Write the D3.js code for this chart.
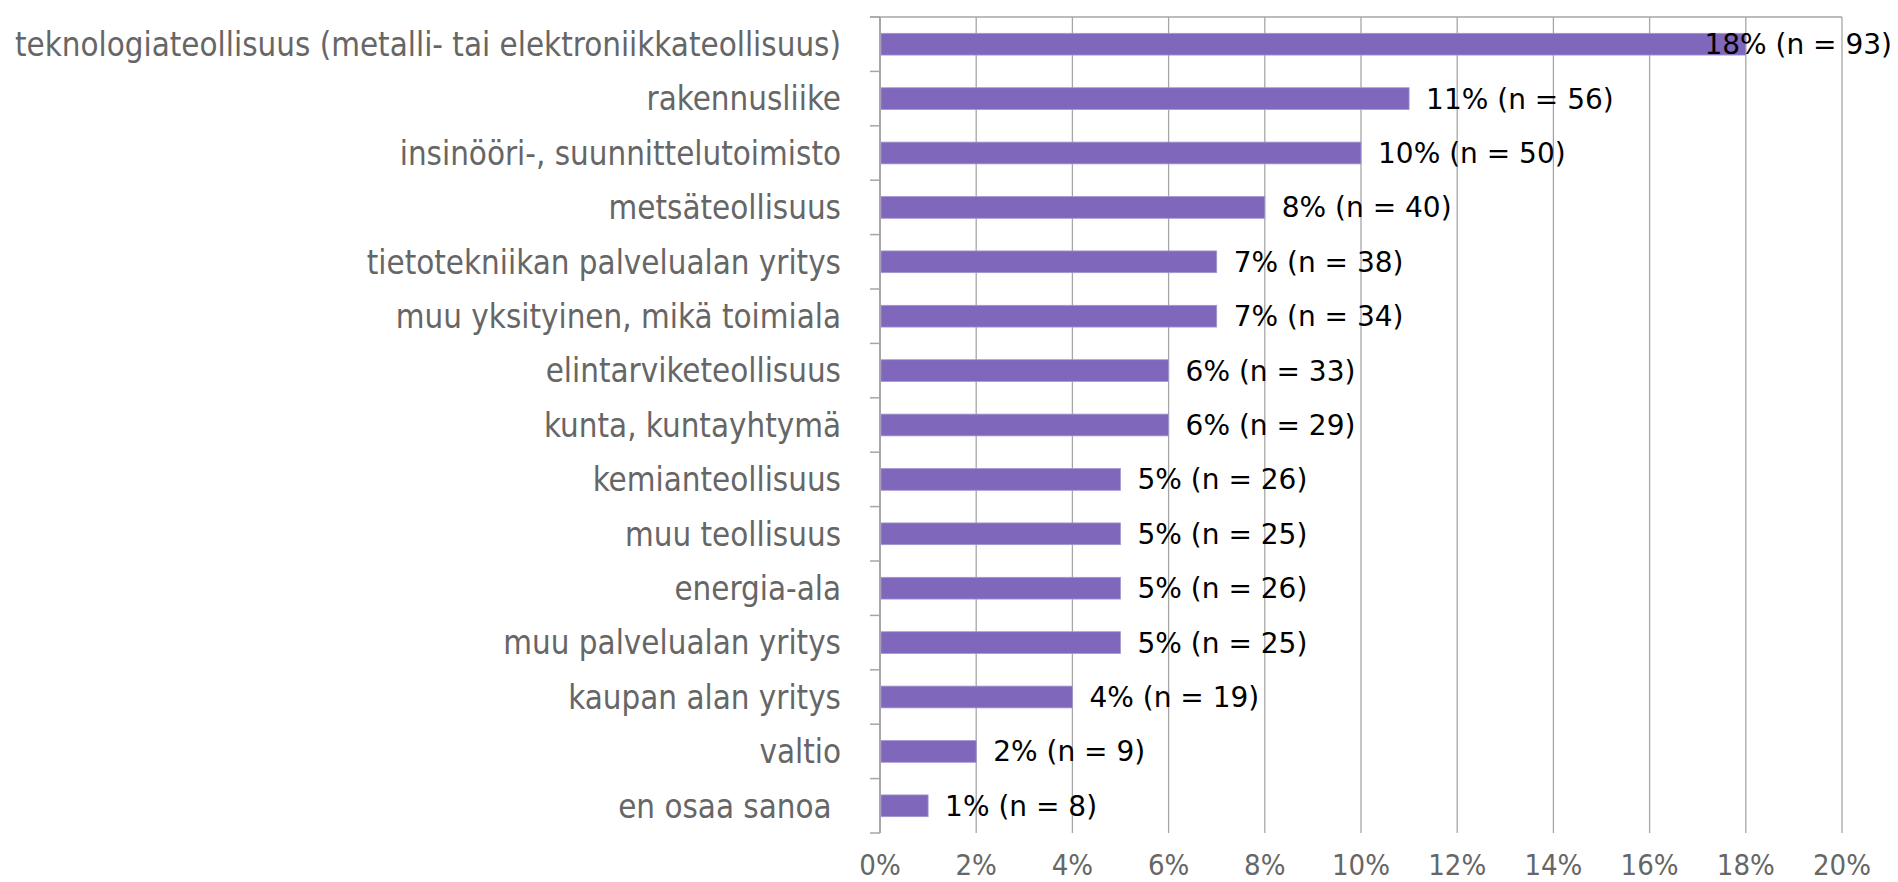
<!DOCTYPE html>
<html>
<head>
<meta charset="utf-8">
<script src="https://cdn.jsdelivr.net/npm/d3@7"></script>
<style>
  html, body { margin: 0; padding: 0; background: #fff; }
  svg { display: block; }
  .cat-label { font-family: "DejaVu Sans Condensed", "DejaVu Sans", sans-serif; fill: #666; white-space: pre; }
  .tick-label { font-family: "DejaVu Sans Condensed", "DejaVu Sans", sans-serif; fill: #666; }
  .value-label { font-family: "DejaVu Sans", sans-serif; fill: #000; }
</style>
</head>
<body>
<svg id="chart"></svg>
<script>
const categories = [
  "teknologiateollisuus (metalli- tai elektroniikkateollisuus)",
  "rakennusliike",
  "insinööri-, suunnittelutoimisto",
  "metsäteollisuus",
  "tietotekniikan palvelualan yritys",
  "muu yksityinen, mikä toimiala",
  "elintarviketeollisuus",
  "kunta, kuntayhtymä",
  "kemianteollisuus",
  "muu teollisuus",
  "energia-ala",
  "muu palvelualan yritys",
  "kaupan alan yritys",
  "valtio",
  "en osaa sanoa "
]
const percents = [18, 11, 10, 8, 7, 7, 6, 6, 5, 5, 5, 5, 4, 2, 1]
const counts = [93, 56, 50, 40, 38, 34, 33, 29, 26, 25, 26, 25, 19, 9, 8]
const xTicks = [0, 2, 4, 6, 8, 10, 12, 14, 16, 18, 20]

const width = 1898
const height = 882
const margin = ({ top: 17, right: 56, bottom: 49, left: 880 })

const data = categories.map((c, i) => ({ category: c, pct: percents[i], n: counts[i] }))

const svg = d3.select("#chart")
  .attr("width", width)
  .attr("height", height)

const x = d3.scaleLinear()
  .domain([0, 20])
  .range([margin.left, width - margin.right])

const y = d3.scaleBand()
  .domain(categories)
  .range([margin.top, height - margin.bottom])
  .paddingInner(0.6)
  .paddingOuter(0.3)

const yOuter = d3.scaleBand()
  .domain(categories)
  .range([margin.top, height - margin.bottom])

// vertical gridlines
svg.append("g")
  .selectAll("line")
  .data(xTicks.slice(1))
  .join("line")
    .attr("x1", d => x(d))
    .attr("x2", d => x(d))
    .attr("y1", margin.top)
    .attr("y2", height - margin.bottom)
    .attr("stroke", "#a6a6a6")
    .attr("stroke-width", 1.3)

// top border
svg.append("line")
  .attr("x1", x(0) - 10)
  .attr("x2", x(20))
  .attr("y1", margin.top)
  .attr("y2", margin.top)
  .attr("stroke", "#a6a6a6")
  .attr("stroke-width", 1.5)

// y axis with ticks between categories
const tickYs = categories.map(c => yOuter(c)).concat([height - margin.bottom])
svg.append("g")
  .selectAll("line")
  .data(tickYs)
  .join("line")
    .attr("x1", x(0) - 10)
    .attr("x2", x(0))
    .attr("y1", d => d)
    .attr("y2", d => d)
    .attr("stroke", "#a6a6a6")
    .attr("stroke-width", 1.5)

svg.append("line")
  .attr("x1", x(0))
  .attr("x2", x(0))
  .attr("y1", margin.top)
  .attr("y2", height - margin.bottom)
  .attr("stroke", "#a6a6a6")
  .attr("stroke-width", 2)

// bars
svg.append("g")
  .selectAll("rect")
  .data(data)
  .join("rect")
    .attr("x", x(0) + 1)
    .attr("y", d => y(d.category))
    .attr("width", d => x(d.pct) - x(0) - 1)
    .attr("height", y.bandwidth())
    .attr("fill", "#7f67bb")
    .attr("stroke", "#a596d2")
    .attr("stroke-width", 0.8)

// category labels
svg.append("g")
  .selectAll("text")
  .data(data)
  .join("text")
    .attr("class", "cat-label")
    .attr("x", x(0) - 39)
    .attr("y", d => yOuter(d.category) + yOuter.bandwidth() / 2)
    .attr("dy", "0.36em")
    .attr("text-anchor", "end")
    .attr("font-size", 32.8)
    .text(d => d.category)

// value labels
svg.append("g")
  .selectAll("text")
  .data(data)
  .join("text")
    .attr("class", "value-label")
    .attr("y", d => yOuter(d.category) + yOuter.bandwidth() / 2)
    .attr("dy", "0.36em")
    .attr("font-size", 28)
    .text(d => `${d.pct}% (n = ${d.n})`)
    .attr("x", function(d) {
      const w = this.getComputedTextLength()
      return Math.min(x(d.pct) + 17, width - 6 - w)
    })

// x tick labels
svg.append("g")
  .selectAll("text")
  .data(xTicks)
  .join("text")
    .attr("class", "tick-label")
    .attr("x", d => x(d))
    .attr("y", 875)
    .attr("text-anchor", "middle")
    .attr("font-size", 29)
    .text(d => `${d}%`)
</script>
</body>
</html>
